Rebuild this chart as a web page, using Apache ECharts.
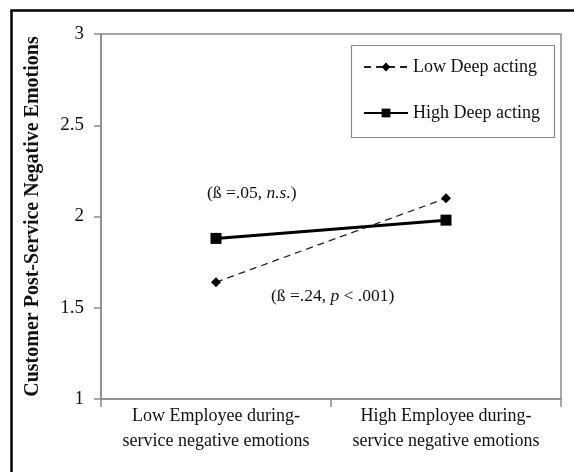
<!DOCTYPE html>
<html>
<head>
<meta charset="utf-8">
<script src="https://cdn.jsdelivr.net/npm/echarts@6/dist/echarts.min.js"></script>
<style>
html,body{margin:0;padding:0;background:#fff;}
#main{width:574px;height:472px;}
</style>
</head>
<body>
<div id="main"></div>
<script>
const categories = ['Low Employee during-\nservice negative emotions', 'High Employee during-\nservice negative emotions'];
const lowDeepActing = [1.64, 2.10];
const highDeepActing = [1.88, 1.98];
const yTicks = [1, 1.5, 2, 2.5, 3];
const seriesNames = ['Low Deep acting', 'High Deep acting'];
const yAxisTitle = 'Customer Post-Service Negative Emotions';

const FONT = '"Liberation Serif", "Times New Roman", serif';
const chart = echarts.init(document.getElementById('main'), null, {renderer: 'canvas'});
chart.setOption({
  animation: false,
  backgroundColor: '#fff',
  grid: {left: 101, right: 13, top: 34, bottom: 73, show: true, borderColor: '#8a8a8a', borderWidth: 1.5, backgroundColor: 'transparent'},
  legend: {
    orient: 'vertical', left: 363, top: 58, padding: 0, itemGap: 28,
    itemWidth: 44, itemHeight: 11,
    textStyle: {fontFamily: FONT, fontSize: 18, color: '#111'},
    data: seriesNames
  },
  xAxis: {
    type: 'category', data: categories,
    axisLine: {lineStyle: {color: '#8a8a8a', width: 1.5}},
    axisTick: {show: true, interval: 0, length: 8, lineStyle: {color: '#8a8a8a', width: 1.5}},
    axisLabel: {interval: 0, hideOverlap: false, fontFamily: FONT, fontSize: 18, color: '#111', lineHeight: 25, margin: 5}
  },
  yAxis: {
    type: 'value', min: yTicks[0], max: yTicks[yTicks.length - 1], interval: 0.5,
    splitLine: {show: false},
    axisLine: {show: true, lineStyle: {color: '#8a8a8a', width: 1.5}},
    axisTick: {show: true, length: 7, lineStyle: {color: '#8a8a8a', width: 1.5}},
    axisLabel: {fontFamily: FONT, fontSize: 19, color: '#111', margin: 17, formatter: v => String(v)},
    name: yAxisTitle, nameLocation: 'middle', nameRotate: 90, nameGap: 58,
    nameTextStyle: {fontFamily: FONT, fontSize: 20, fontWeight: 'bold', color: '#111'}
  },
  series: [
    {
      name: seriesNames[0], type: 'line', data: lowDeepActing,
      symbol: 'diamond', symbolSize: 10,
      lineStyle: {color: '#222', width: 1.3, type: [7, 5]},
      itemStyle: {color: '#000'}
    },
    {
      name: seriesNames[1], type: 'line', data: highDeepActing,
      symbol: 'rect', symbolSize: 11,
      lineStyle: {color: '#000', width: 3},
      itemStyle: {color: '#000'}
    }
  ],
  graphic: [
    {type: 'rect', left: 9, top: 8, shape: {width: 620, height: 520},
     style: {fill: 'none', stroke: '#000', lineWidth: 2.5}, z: 100},
    {type: 'rect', left: 349, top: 43, shape: {width: 203, height: 92},
     style: {fill: 'none', stroke: '#8a8a8a', lineWidth: 1.2}, z: 100},
    {type: 'text', left: 207, top: 184, z: 100,
     style: {text: '{n|(ß =.05, }{i|n.s.}{n|)}', rich: {
       n: {fontFamily: FONT, fontSize: 17.5, fill: '#111'},
       i: {fontFamily: FONT, fontSize: 17.5, fontStyle: 'italic', fill: '#111'}}}},
    {type: 'text', left: 271, top: 287, z: 100,
     style: {text: '{n|(ß =.24, }{i|p}{n| < .001)}', rich: {
       n: {fontFamily: FONT, fontSize: 17.5, fill: '#111'},
       i: {fontFamily: FONT, fontSize: 17.5, fontStyle: 'italic', fill: '#111'}}}}
  ]
});
</script>
</body>
</html>
